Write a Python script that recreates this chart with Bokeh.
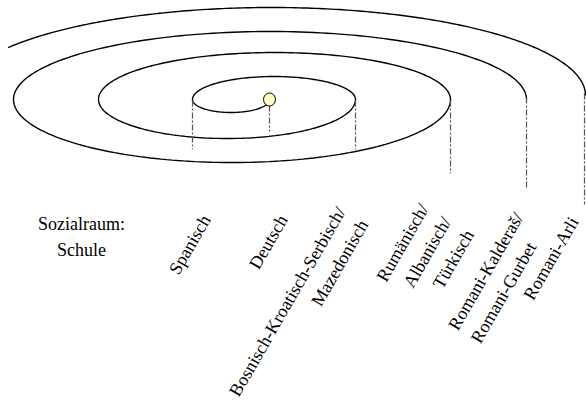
import numpy as np
from bokeh.plotting import figure
from bokeh.models import Range1d
from bokeh.embed import file_html
from bokeh.resources import INLINE
from bokeh.core.properties import value

# ---- diagram data (reference pixel coordinates) ----
# spiral: x positions where the spiral crosses its axis line, and half-turn depths
turn_x = [269, 192, 355, 98, 450, 13, 526]
turn_depth = [13, 23, 39, 47, 63, 68]          # lower / upper half-turns alternate
axis_y = 99
# outermost open arc (ellipse part)
outer_center = (271, 95)
outer_radii = (314, 88)
outer_sweep_deg = 147

# centre point
dot_x = [269]
dot_y = [99]

# dash-dot drop lines under each turn
drop_x = [192, 269, 355, 450, 526, 584]
drop_top = [100, 105, 100, 100, 97, 93]
drop_bottom = [149, 131, 149, 173, 187, 204]

# rotated language labels
lab_right_text = ["Spanisch", "Deutsch", "Bosnisch-Kroatisch-Serbisch/\nMazedonisch",
                  "Rumänisch/\nAlbanisch/\nTürkisch", "Romani-Arli"]
lab_right_x = [197, 274, 332, 415, 565]
lab_right_y = [211, 211, 203, 200, 213]
lab_left_text = ["Romani-Kalderaš/\nRomani-Gurbet"]
lab_left_x = [443.6]
lab_left_y = [323]

title_text = ["Sozialraum:\nSchule"]
title_x = [81]
title_y = [213]

# ---- build figure ----
p = figure(width=586, height=410, output_backend="svg", toolbar_location=None,
           x_range=Range1d(0, 586), y_range=Range1d(410, 0), min_border=0)
p.xaxis.visible = False
p.yaxis.visible = False
p.xgrid.visible = False
p.ygrid.visible = False
p.outline_line_color = None
p.background_fill_color = "white"
p.border_fill_color = "white"

# spiral made of half ellipses
t = np.linspace(0, np.pi, 120)
sx, sy = [], []
for i in range(len(turn_depth)):
    a, b = turn_x[i], turn_x[i + 1]
    c = (a + b) / 2.0
    sign = 1 if i % 2 == 0 else -1
    sx.append(c + (a - c) * np.cos(t))
    sy.append(axis_y + sign * turn_depth[i] * np.sin(t))
sx = np.concatenate(sx)
sy = np.concatenate(sy)
p.line(sx, sy, line_color="black", line_width=1.4)

to = np.radians(np.linspace(0, outer_sweep_deg, 200))
ox = outer_center[0] + outer_radii[0] * np.cos(to)
oy = outer_center[1] - outer_radii[1] * np.sin(to)
p.line(ox, oy, line_color="black", line_width=1.4)

p.segment(x0=drop_x, y0=drop_top, x1=drop_x, y1=drop_bottom,
          line_color="#555555", line_width=1.2, line_dash="6 2 2 2")

p.ellipse(x=dot_x, y=dot_y, width=12, height=13, fill_color="#ffffc4",
          line_color="black", line_width=1)

font = value("Liberation Serif")
p.text(x=lab_right_x, y=lab_right_y, text=lab_right_text, angle=60, angle_units="deg",
       text_align="right", text_baseline="top", text_font=font,
       text_font_size="18px", text_line_height=1.3, text_color="black")
p.text(x=lab_left_x, y=lab_left_y, text=lab_left_text, angle=60, angle_units="deg",
       text_align="left", text_baseline="top", text_font=font,
       text_font_size="18px", text_line_height=1.3, text_color="black")
p.text(x=title_x, y=title_y, text=title_text, text_align="center", text_baseline="top",
       text_font=font, text_font_size="18px", text_line_height=1.3, text_color="black")

open("out.html", "w").write(file_html(p, INLINE))
